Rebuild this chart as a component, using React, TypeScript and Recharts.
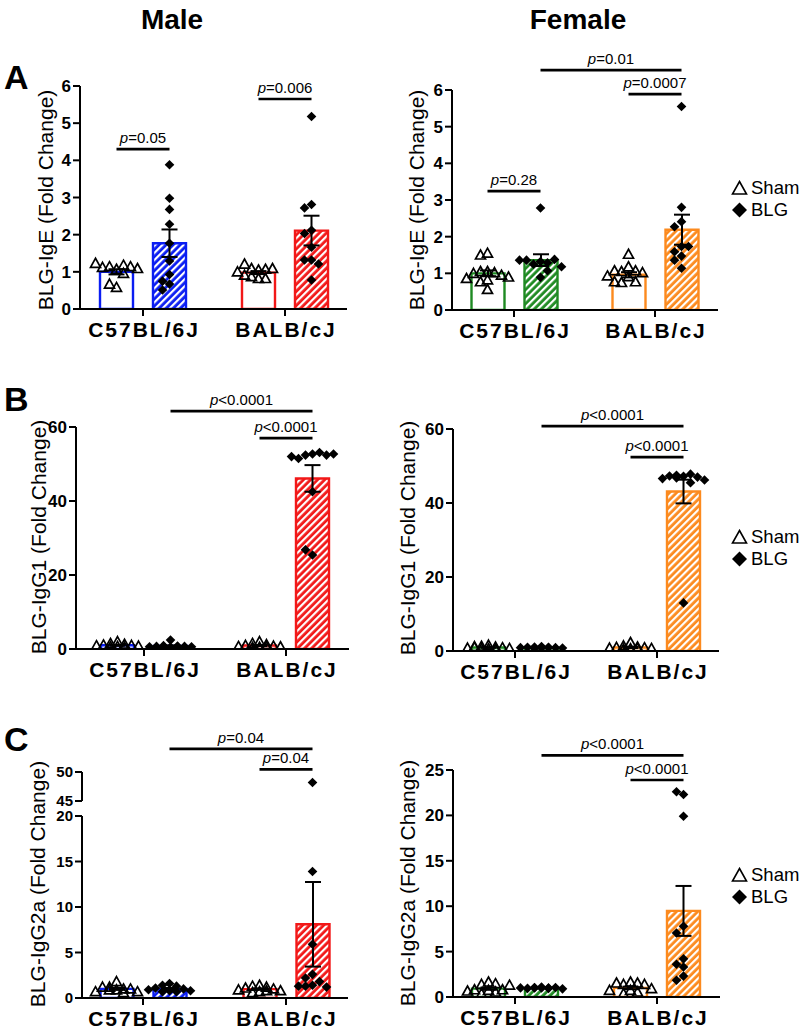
import React from 'react';
import { ComposedChart, Bar, Cell, XAxis, YAxis, Scatter, ErrorBar, ReferenceLine } from 'recharts';

const FONT = '"Liberation Sans", Arial, Helvetica, sans-serif';

const strains = ['C57BL/6J', 'BALB/cJ'];
const treatments = ['Sham', 'BLG'];
const sexes = ['Male', 'Female'];
const panelLetters = ['A', 'B', 'C'];

const maleColors = ['#0a1df2', '#f21818'];
const femaleColors = ['#1e8a22', '#fc8a1e'];

// A: BLG-IgE  (index: [strain][sham, BLG])
const igeTicks = [0, 1, 2, 3, 4, 5, 6];
const igeMaleMean = [[1.0, 1.77], [0.98, 2.11]];
const igeMaleSem = [[0.07, 0.37], [0.04, 0.4]];
const igeMaleSham = [
  [1.07, 1.14, 1.18, 1.12, 1.14, 1.23, 1.09, 0.96, 0.58, 0.67],
  [1.05, 1.09, 1.07, 1.21, 1.09, 0.91, 0.87, 0.82, 0.82, 1.0],
];
const igeMaleBlg = [
  [3.88, 2.98, 2.68, 2.28, 1.77, 1.29, 0.93, 0.75, 0.67, 0.51],
  [5.18, 2.81, 2.72, 2.12, 2.03, 1.66, 1.32, 1.32, 1.21, 0.78],
];
const igeFemaleMean = [[1.0, 1.36], [0.96, 2.19]];
const igeFemaleSem = [[0.08, 0.16], [0.07, 0.41]];
const igeFemaleSham = [
  [1.55, 1.5, 1.05, 1.05, 1.02, 1.0, 0.95, 0.86, 0.82, 0.77, 0.56, 0.9],
  [1.52, 1.18, 1.05, 1.07, 1.07, 1.02, 0.91, 0.93, 0.75, 0.77, 0.77],
];
const igeFemaleBlg = [
  [2.78, 1.32, 1.25, 1.29, 1.36, 1.38, 1.36, 0.89, 1.07, 1.18],
  [5.55, 2.8, 2.41, 2.27, 1.73, 1.59, 1.73, 1.47, 1.36, 1.14],
];
const igeMaleBrackets = [
  { from: [0, 0], to: [0, 1], y: 4.3, text: 'p=0.05' },
  { from: [1, 0], to: [1, 1], y: 5.65, text: 'p=0.006' },
];
const igeFemaleBrackets = [
  { from: [0, 0], to: [0, 1], y: 3.24, text: 'p=0.28' },
  { from: [1, 0], to: [1, 1], y: 5.89, text: 'p=0.0007' },
  { from: [0, 1], to: [1, 1], y: 6.54, text: 'p=0.01' },
];

// B: BLG-IgG1
const igg1Ticks = [0, 20, 40, 60];
const igg1MaleMean = [[1.0, 0.8], [0.93, 46.1]];
const igg1MaleSem = [[0.13, 0.17], [0.15, 3.6]];
const igg1MaleSham = [
  [2.0, 1.5, 1.3, 1.1, 1.0, 0.9, 0.8, 0.7, 0.6, 0.5],
  [2.0, 1.5, 1.2, 1.0, 0.8, 0.7, 0.6, 0.5, 0.4, 0.6],
];
const igg1MaleBlg = [
  [2.4, 0.9, 0.8, 0.7, 0.7, 0.6, 0.6, 0.5, 0.5, 0.6],
  [52.7, 52.4, 53.1, 51.5, 52.4, 52.0, 52.7, 42.5, 25.4, 26.8],
];
const igg1FemaleMean = [[0.95, 0.9], [0.95, 43.1]];
const igg1FemaleSem = [[0.1, 0.05], [0.17, 3.2]];
const igg1FemaleSham = [
  [1.6, 1.3, 1.1, 1.0, 0.9, 0.8, 0.7, 0.6, 0.6, 0.5, 1.2],
  [2.3, 1.4, 1.1, 1.0, 0.9, 0.8, 0.7, 0.6, 0.5, 0.7],
];
const igg1FemaleBlg = [
  [1.2, 1.1, 1.0, 1.0, 0.9, 0.9, 0.8, 0.8, 0.7, 0.9],
  [47.2, 47.5, 47.8, 47.3, 47.0, 46.6, 46.2, 45.5, 46.8, 13.0],
];
const igg1MaleBrackets = [
  { from: [1, 0], to: [1, 1], y: 57, text: 'p<0.0001' },
  { from: [0, 1], to: [1, 1], y: 64.3, text: 'p<0.0001' },
];
const igg1FemaleBrackets = [
  { from: [1, 0], to: [1, 1], y: 52.4, text: 'p<0.0001' },
  { from: [0, 1], to: [1, 1], y: 60.8, text: 'p<0.0001' },
];

// C: BLG-IgG2a (male axis is broken 20 -> 45)
const igg2aMaleLowTicks = [0, 5, 10, 15, 20];
const igg2aMaleHighTicks = [45, 50];
const igg2aFemaleTicks = [0, 5, 10, 15, 20, 25];
const igg2aMaleMean = [[1.0, 1.0], [0.98, 8.1]];
const igg2aMaleSem = [[0.11, 0.1], [0.08, 4.65]];
const igg2aMaleSham = [
  [0.9, 1.2, 1.0, 1.2, 1.8, 1.0, 0.7, 0.7, 0.9, 0.6],
  [1.4, 1.3, 1.2, 1.1, 1.0, 0.9, 0.8, 0.7, 0.6, 0.8],
];
const igg2aMaleBlg = [
  [1.6, 1.4, 1.3, 1.1, 1.0, 0.9, 0.8, 0.8, 0.7, 0.7],
  [48.2, 13.9, 5.9, 2.6, 2.2, 1.8, 1.4, 1.3, 1.3, 1.2],
];
const igg2aFemaleMean = [[0.92, 0.98], [1.0, 9.48]];
const igg2aFemaleSem = [[0.13, 0.02], [0.14, 2.75]];
const igg2aFemaleSham = [
  [1.65, 1.4, 1.47, 0.8, 0.8, 0.73, 0.55, 0.37, 0.66, 1.3],
  [1.65, 0.73, 1.4, 1.54, 1.54, 1.4, 0.55, 0.37, 0.73, 0.92],
];
const igg2aFemaleBlg = [
  [1.1, 1.0, 1.0, 0.95, 1.05, 1.0, 0.9, 1.0, 1.05, 0.95],
  [22.3, 22.6, 19.9, 7.8, 7.05, 4.2, 3.3, 3.6, 2.3, 1.85],
];
const igg2aMaleBrackets = [
  { from: [1, 0], to: [1, 1], y: 50.45, text: 'p=0.04' },
  { from: [0, 1], to: [1, 1], y: 54.0, text: 'p=0.04' },
];
const igg2aFemaleBrackets = [
  { from: [1, 0], to: [1, 1], y: 23.9, text: 'p<0.0001' },
  { from: [0, 1], to: [1, 1], y: 26.6, text: 'p<0.0001' },
];

const BAR_SIZE = 33;
const BAR_GAP = 20;
const SLOT_PX = 7;
const TOP = 60;
const YW = 75;
const XH = 40;
const MB = 12;
const MR = 10;

// spread points that would overlap, like a column scatter
function slotsFor(values: number[], pxPerUnit: number) {
  const order = [0, -1, 1, -2, 2, -3, 3];
  const placed: { v: number; s: number }[] = [];
  return values.map((v, k) => {
    const free = order.find((s) => placed.every((p) => p.s !== s || Math.abs(p.v - v) * pxPerUnit >= 8));
    const s = free === undefined ? order[k % order.length] : free;
    placed.push({ v, s });
    return s;
  });
}

const triShape = (p: any) => (
  <path
    d={`M${p.cx},${p.cy - 5}L${p.cx + 5},${p.cy + 4}L${p.cx - 5},${p.cy + 4}Z`}
    fill="none"
    stroke="#000"
    strokeWidth={1.7}
  />
);
const diaShape = (p: any) => (
  <path d={`M${p.cx},${p.cy - 4.8}L${p.cx + 4.8},${p.cy}L${p.cx},${p.cy + 4.8}L${p.cx - 4.8},${p.cy}Z`} fill="#000" />
);

const CatTick = ({ x, y, payload }: any) => (
  <text x={x + 1} y={y} dy={19} textAnchor="middle" fill="#000" fontSize={21} fontWeight={700} fontFamily={FONT} style={{ letterSpacing: '2px' }}>
    {payload.value}
  </text>
);

const PLabel = ({ viewBox, text }: any) => {
  if (!viewBox) return null;
  return (
    <text x={viewBox.x + viewBox.width / 2} y={viewBox.y - 6} textAnchor="middle" fontSize={15} fontFamily={FONT} fill="#000">
      <tspan fontStyle="italic">{text[0]}</tspan>
      {text.slice(1)}
    </text>
  );
};

function Panel(props: any) {
  const {
    plot, centers, domain, ticks, mean, sem, sham, blg, colors, brackets = [],
    title, titleX, titleY, showBars = true, showXAxis = true, tickFont = 17,
  } = props;
  const band = centers[1] - centers[0];
  const padL = centers[0] - band / 2 - plot.l;
  const padR = plot.r - (centers[1] + band / 2);
  const chartLeft = plot.l - YW;
  const chartTop = plot.t - TOP;
  const width = plot.r - chartLeft + MR;
  const height = TOP + (plot.b - plot.t) + (showXAxis ? XH : 0) + MB;
  const pxPerUnit = (plot.b - plot.t) / (domain[1] - domain[0]);
  const off = (BAR_SIZE + BAR_GAP) / 2 / band;
  const step = SLOT_PX / band;
  const posX = (s: number, t: number) => s + 0.5 + (t === 0 ? -off : off);

  const rows = strains.map((s, i) => ({
    strain: s,
    sham: mean[i][0],
    blg: mean[i][1],
    shamErr: sem[i][0],
    blgErr: sem[i][1],
  }));
  const pts = (values: number[][], t: number) =>
    values.flatMap((vals, i) => {
      const vis = vals.filter((v) => v >= domain[0] && v <= domain[1]);
      const sl = slotsFor(vis, pxPerUnit);
      return vis.map((v, k) => ({ x: posX(i, t) + sl[k] * step, y: v }));
    });

  const tx = titleX - chartLeft;
  const ty = titleY - chartTop;

  return (
    <div style={{ position: 'absolute', left: chartLeft, top: chartTop }}>
      <ComposedChart width={width} height={height} data={rows} margin={{ top: TOP, right: MR, bottom: MB, left: 0 }} barGap={BAR_GAP}>
        <XAxis
          dataKey="strain"
          hide={!showXAxis}
          height={XH}
          padding={{ left: padL, right: padR }}
          axisLine={{ stroke: '#000', strokeWidth: 2 }}
          tickLine={{ stroke: '#000', strokeWidth: 2 }}
          tickSize={7}
          tick={<CatTick />}
          interval={0}
        />
        <XAxis xAxisId="s" type="number" dataKey="x" domain={[0, 2]} hide allowDataOverflow padding={{ left: padL, right: padR }} />
        <YAxis
          type="number"
          domain={domain}
          ticks={ticks}
          interval={0}
          width={YW}
          allowDataOverflow
          axisLine={{ stroke: '#000', strokeWidth: 2 }}
          tickLine={{ stroke: '#000', strokeWidth: 2 }}
          tickSize={7}
          tick={{ fill: '#000', fontSize: tickFont, fontWeight: 700, fontFamily: FONT }}
          label={
            title
              ? () => (
                  <text
                    x={tx}
                    y={ty}
                    transform={`rotate(-90, ${tx}, ${ty})`}
                    textAnchor="middle"
                    dominantBaseline="central"
                    fontSize={21}
                    fontFamily={FONT}
                    fill="#000"
                  >
                    {title}
                  </text>
                )
              : undefined
          }
        />
        {showBars && (
          <Bar dataKey="sham" name={treatments[0]} barSize={BAR_SIZE} strokeWidth={2.4} isAnimationActive={false}>
            {rows.map((r, i) => (
              <Cell key={r.strain} fill="#fff" stroke={colors[i]} />
            ))}
            <ErrorBar dataKey="shamErr" width={8} stroke="#000" strokeWidth={2} />
          </Bar>
        )}
        {showBars && (
          <Bar dataKey="blg" name={treatments[1]} barSize={BAR_SIZE} strokeWidth={2.4} isAnimationActive={false}>
            {rows.map((r, i) => (
              <Cell key={r.strain} fill={`url(#hatch-${colors[i].slice(1)})`} stroke={colors[i]} />
            ))}
            <ErrorBar dataKey="blgErr" width={8} stroke="#000" strokeWidth={2} />
          </Bar>
        )}
        <Scatter xAxisId="s" data={pts(sham, 0)} dataKey="y" shape={triShape} isAnimationActive={false} />
        <Scatter xAxisId="s" data={pts(blg, 1)} dataKey="y" shape={diaShape} isAnimationActive={false} />
        {brackets.map((b: any, k: number) => (
          <ReferenceLine
            key={k}
            xAxisId="s"
            segment={[
              { x: posX(b.from[0], b.from[1]), y: b.y },
              { x: posX(b.to[0], b.to[1]), y: b.y },
            ]}
            stroke="#000"
            strokeWidth={2.7}
            ifOverflow="visible"
            label={(lp: any) => <PLabel viewBox={lp.viewBox} text={b.text} />}
          />
        ))}
      </ComposedChart>
    </div>
  );
}

const LegendBox = ({ top }: { top: number }) => (
  <div style={{ position: 'absolute', left: 731, top, fontFamily: FONT, fontSize: 18.5, color: '#000', lineHeight: '22px', whiteSpace: 'nowrap' }}>
    <div style={{ display: 'flex', alignItems: 'center' }}>
      <svg width={17} height={16}>
        <path d="M8.5,1.5L15.5,14L1.5,14Z" fill="none" stroke="#000" strokeWidth={1.6} />
      </svg>
      <span style={{ marginLeft: 3 }}>{treatments[0]}</span>
    </div>
    <div style={{ display: 'flex', alignItems: 'center' }}>
      <svg width={17} height={16}>
        <path d="M8.5,0.5L16,8L8.5,15.5L1,8Z" fill="#000" />
      </svg>
      <span style={{ marginLeft: 3 }}>{treatments[1]}</span>
    </div>
  </div>
);

const allColors = [...maleColors, ...femaleColors];

export default function App() {
  return (
    <div style={{ position: 'relative', width: 800, height: 1030, background: '#fff', overflow: 'hidden', fontFamily: FONT }}>
      <style>{'body{margin:0}'}</style>
      <svg width={0} height={0} style={{ position: 'absolute' }}>
        <defs>
          {allColors.map((c) => (
            <pattern key={c} id={`hatch-${c.slice(1)}`} patternUnits="userSpaceOnUse" width={5} height={5} patternTransform="rotate(45)">
              <rect width={5} height={5} fill={c} />
              <rect x={0} width={2.2} height={5} fill="#fff" />
            </pattern>
          ))}
        </defs>
      </svg>

      {[172, 578].map((cx, i) => (
        <div key={sexes[i]} style={{ position: 'absolute', left: cx - 100, width: 200, top: 6, textAlign: 'center', fontSize: 28, fontWeight: 700, lineHeight: 1 }}>
          {sexes[i]}
        </div>
      ))}
      {[60, 382, 722].map((t, i) => (
        <div key={panelLetters[i]} style={{ position: 'absolute', left: 4, top: t, fontSize: 34, fontWeight: 700, lineHeight: 1 }}>
          {panelLetters[i]}
        </div>
      ))}

      <Panel plot={{ l: 80, r: 347, t: 86, b: 309 }} centers={[143, 285]} domain={[0, 6]} ticks={igeTicks}
        mean={igeMaleMean} sem={igeMaleSem} sham={igeMaleSham} blg={igeMaleBlg} colors={maleColors}
        brackets={igeMaleBrackets} title="BLG-IgE (Fold Change)" titleX={45} titleY={200} />
      <Panel plot={{ l: 452, r: 718, t: 90, b: 310 }} centers={[514, 655]} domain={[0, 6]} ticks={igeTicks}
        mean={igeFemaleMean} sem={igeFemaleSem} sham={igeFemaleSham} blg={igeFemaleBlg} colors={femaleColors}
        brackets={igeFemaleBrackets} title="BLG-IgE (Fold Change)" titleX={416} titleY={200} />

      <Panel plot={{ l: 76, r: 349, t: 427, b: 649 }} centers={[144, 286]} domain={[0, 60]} ticks={igg1Ticks}
        mean={igg1MaleMean} sem={igg1MaleSem} sham={igg1MaleSham} blg={igg1MaleBlg} colors={maleColors}
        brackets={igg1MaleBrackets} title="BLG-IgG1 (Fold Change)" titleX={38} titleY={537} />
      <Panel plot={{ l: 453, r: 719, t: 429, b: 651 }} centers={[515, 657]} domain={[0, 60]} ticks={igg1Ticks}
        mean={igg1FemaleMean} sem={igg1FemaleSem} sham={igg1FemaleSham} blg={igg1FemaleBlg} colors={femaleColors}
        brackets={igg1FemaleBrackets} title="BLG-IgG1 (Fold Change)" titleX={407} titleY={538} />

      <Panel plot={{ l: 82, r: 348, t: 816, b: 998 }} centers={[143, 286]} domain={[0, 20]} ticks={igg2aMaleLowTicks}
        mean={igg2aMaleMean} sem={igg2aMaleSem} sham={igg2aMaleSham} blg={igg2aMaleBlg} colors={maleColors}
        title="BLG-IgG2a (Fold Change)" titleX={37} titleY={884} tickFont={15} />
      <Panel plot={{ l: 82, r: 348, t: 772, b: 801 }} centers={[143, 286]} domain={[45, 50]} ticks={igg2aMaleHighTicks}
        mean={igg2aMaleMean} sem={igg2aMaleSem} sham={igg2aMaleSham} blg={igg2aMaleBlg} colors={maleColors}
        brackets={igg2aMaleBrackets} showBars={false} showXAxis={false} tickFont={15} />
      <Panel plot={{ l: 453, r: 720, t: 770, b: 997 }} centers={[515, 657]} domain={[0, 25]} ticks={igg2aFemaleTicks}
        mean={igg2aFemaleMean} sem={igg2aFemaleSem} sham={igg2aFemaleSham} blg={igg2aFemaleBlg} colors={femaleColors}
        brackets={igg2aFemaleBrackets} title="BLG-IgG2a (Fold Change)" titleX={407} titleY={883} />

      <LegendBox top={177} />
      <LegendBox top={526} />
      <LegendBox top={864} />
    </div>
  );
}
